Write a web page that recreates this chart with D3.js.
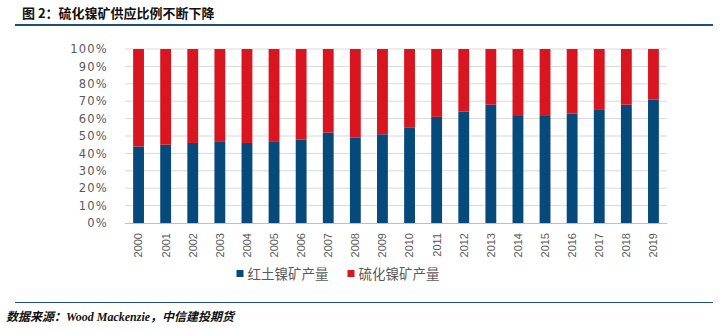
<!DOCTYPE html>
<html>
<head>
<meta charset="utf-8">
<script src="https://cdn.jsdelivr.net/npm/d3@7/dist/d3.min.js"></script>
<style>
  html, body { margin: 0; padding: 0; background: #fff; }
  svg { display: block; }
</style>
</head>
<body>
<svg id="chart" width="728" height="331"></svg>
<script>
// Nickel ore supply share by type, 2000-2019 (%)
const years = ["2000","2001","2002","2003","2004","2005","2006","2007","2008","2009",
               "2010","2011","2012","2013","2014","2015","2016","2017","2018","2019"];
const laterite = [44, 45, 46, 47, 46, 47, 48, 52, 49, 51, 55, 61, 64, 68, 62, 62, 63, 65, 68, 71];
const sulfide  = [56, 55, 54, 53, 54, 53, 52, 48, 51, 49, 45, 39, 36, 32, 38, 38, 37, 35, 32, 29];
const yTicks = [0, 10, 20, 30, 40, 50, 60, 70, 80, 90, 100];
const seriesNames = ["红土镍矿产量", "硫化镍矿产量"];
const seriesColors = ["#054a7b", "#d9151f"];

const svg = d3.select("#chart");

// Title and rule lines
svg.append("text")
  .attr("x", 22).attr("y", 18)
  .attr("font-family", "'Noto Sans CJK SC', sans-serif")
  .attr("font-weight", 700)
  .attr("font-size", 13)
  .attr("fill", "#111")
  .text("图 2：硫化镍矿供应比例不断下降");
svg.append("line")
  .attr("x1", 15).attr("x2", 713).attr("y1", 25).attr("y2", 25)
  .attr("stroke", "#1f4e79").attr("stroke-width", 2.2);
svg.append("line")
  .attr("x1", 15).attr("x2", 713).attr("y1", 302.5).attr("y2", 302.5)
  .attr("stroke", "#1f4e79").attr("stroke-width", 1);
svg.append("text")
  .attr("x", 6).attr("y", 321)
  .attr("font-family", "'Liberation Serif', 'Noto Sans CJK SC', serif")
  .attr("font-style", "italic")
  .attr("font-weight", 700)
  .attr("font-size", 12)
  .attr("fill", "#111")
  .text("数据来源：Wood Mackenzie，中信建投期货");

// Plot area
const plot = { left: 125, right: 667, top: 49, bottom: 223 };

const x = d3.scaleBand().domain(years)
  .range([plot.left, plot.right])
  .paddingInner(0.6).paddingOuter(0.3);
const y = d3.scaleLinear().domain([0, 100]).range([plot.bottom, plot.top]);

// Gridlines
svg.append("g")
  .selectAll("line")
  .data(yTicks.filter(d => d > 0))
  .join("line")
  .attr("x1", plot.left).attr("x2", plot.right)
  .attr("y1", d => y(d)).attr("y2", d => y(d))
  .attr("stroke", "#d9d9d9").attr("stroke-width", 1);

// Y axis labels
const yAxis = d3.axisLeft(y).tickValues(yTicks).tickFormat(d => d + "%").tickSize(0).tickPadding(0);
const gy = svg.append("g").attr("transform", `translate(${plot.left - 17},0)`).call(yAxis);
gy.select(".domain").remove();
gy.selectAll("text")
  .attr("font-family", "'DejaVu Sans', sans-serif")
  .attr("font-size", 11.5)
  .attr("letter-spacing", 1.2)
  .attr("fill", "#595959");

// Stacked bars
const rows = years.map((yr, i) => ({ year: yr, laterite: laterite[i], sulfide: sulfide[i] }));
const stack = d3.stack().keys(["laterite", "sulfide"]);
const layers = stack(rows);

svg.append("g")
  .selectAll("g")
  .data(layers)
  .join("g")
  .attr("fill", (d, i) => seriesColors[i])
  .selectAll("rect")
  .data(d => d)
  .join("rect")
  .attr("x", d => x(d.data.year))
  .attr("width", x.bandwidth())
  .attr("y", d => y(d[1]))
  .attr("height", d => y(d[0]) - y(d[1]));

// Bottom axis line
svg.append("line")
  .attr("x1", plot.left).attr("x2", plot.right)
  .attr("y1", plot.bottom + 0.5).attr("y2", plot.bottom + 0.5)
  .attr("stroke", "#bfbfbf").attr("stroke-width", 1);

// X axis labels (rotated)
const xAxis = d3.axisBottom(x).tickSize(0).tickPadding(0);
const gx = svg.append("g").attr("transform", `translate(0,${plot.bottom})`).call(xAxis);
gx.select(".domain").remove();
gx.selectAll("text")
  .attr("font-family", "'Liberation Sans', sans-serif")
  .attr("font-size", 11)
  .attr("fill", "#595959")
  .attr("transform", "rotate(-90)")
  .attr("text-anchor", "end")
  .attr("x", -10)
  .attr("y", 0)
  .attr("dy", "0.35em");

// Legend
const legend = svg.append("g").attr("transform", "translate(0,274)");
const legendX = [236.5, 347.5];
seriesNames.forEach((name, i) => {
  legend.append("rect")
    .attr("x", legendX[i]).attr("y", -4)
    .attr("width", 7).attr("height", 7)
    .attr("fill", seriesColors[i]);
  legend.append("text")
    .attr("x", legendX[i] + 11).attr("y", 0)
    .attr("dy", "0.35em")
    .attr("font-family", "'Noto Sans CJK SC', sans-serif")
    .attr("font-size", 13.5)
    .attr("fill", "#595959")
    .text(name);
});
</script>
</body>
</html>
